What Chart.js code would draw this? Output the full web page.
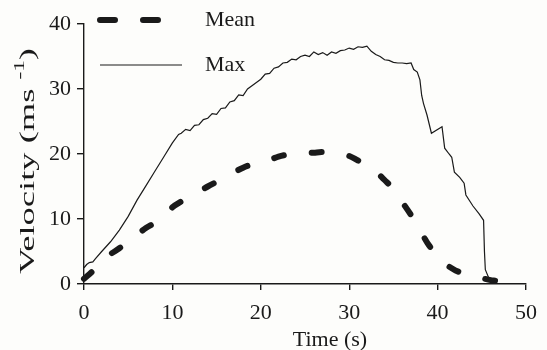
<!DOCTYPE html>
<html>
<head>
<meta charset="utf-8">
<script src="https://cdn.jsdelivr.net/npm/chart.js@4.4.1/dist/chart.umd.min.js"></script>
<style>
  html, body { margin: 0; padding: 0; background: #fdfdfb; }
  #wrap { width: 547px; height: 350px; }
</style>
</head>
<body>
<div id="wrap"><canvas id="velChart" width="547" height="350"></canvas></div>
<script>
// time (s) and velocity (m/s)
const maxTime = [0, 0.3, 0.6, 1.0, 1.3, 2, 3, 4, 5, 6, 7, 8, 9, 10, 10.7,
  11, 11.5, 12, 12.5, 13, 13.5, 14, 14.5, 15, 15.5, 16, 16.5, 17, 17.5, 18, 18.5,
  19, 19.5, 20, 20.5, 21, 21.5, 22, 22.5, 23, 23.5, 24, 24.5, 25, 25.5, 26, 26.5,
  27, 27.5, 28, 28.5, 29, 29.5, 30, 30.5, 31, 31.5, 32, 32.5, 33, 33.5, 34, 34.5,
  35, 35.5, 36, 36.5, 37, 37.3, 37.7, 38, 38.2, 38.4, 38.8, 39.3, 40.5, 40.8,
  41.3, 41.6, 41.9, 42.5, 43, 43.2, 44, 44.7, 45.2, 45.3, 45.4, 45.8, 46.3];
const maxVel = [2.5, 3.0, 3.3, 3.4, 3.9, 5.0, 6.5, 8.3, 10.4, 12.9, 15.1, 17.3, 19.5, 21.7, 23.0,
  23.2, 23.8, 23.6, 24.4, 24.5, 25.3, 25.5, 26.2, 26.1, 27.0, 27.1, 28.0, 28.2, 29.1, 29.0, 30.0,
  30.5, 31.0, 31.5, 32.3, 32.4, 33.2, 33.4, 34.0, 34.1, 34.6, 34.5, 35.0, 35.2, 35.0, 35.7, 35.3,
  35.6, 35.2, 35.7, 35.5, 35.9, 36.0, 36.3, 36.1, 36.5, 36.4, 36.6, 35.8, 35.3, 35.0, 34.5, 34.4,
  34.1, 34.0, 34.0, 33.9, 34.0, 33.0, 32.6, 31.4, 29.0, 27.8, 26.0, 23.2, 24.2, 20.9,
  20.0, 19.5, 17.2, 16.4, 15.5, 13.7, 12.0, 10.8, 9.8, 5.0, 2.2, 0.9, 0.3];

const meanTime = [0, 1, 2, 3, 4, 5, 6, 7, 8, 9, 10, 11, 12, 13, 14, 15, 16, 17, 18, 19, 20,
  21, 22, 23, 24, 25, 26, 27, 28, 29, 30, 31, 32, 33, 34, 35, 36, 37, 38, 39, 40,
  41, 42, 43, 44, 45, 46, 46.5];
const meanVel = [0.8, 2.0, 3.5, 4.6, 5.5, 6.6, 7.6, 8.6, 9.4, 10.3, 11.8, 12.7, 13.4, 14.2, 15.0,
  15.7, 16.4, 17.2, 17.9, 18.4, 18.8, 19.1, 19.6, 19.9, 20.0, 20.1, 20.2, 20.3, 20.2, 20.0, 19.7,
  19.0, 18.3, 17.3, 16.0, 14.6, 12.6, 10.6, 8.3, 6.0, 4.5, 3.0, 2.1, 1.6, 1.2, 0.9, 0.6, 0.5];

const xTicks = [0, 10, 20, 30, 40, 50];
const yTicks = [0, 10, 20, 30, 40];

const ink = '#1a1a1a';
const serif = '"Liberation Serif", "Times New Roman", serif';

const toPoints = (xs, ys) => xs.map((x, i) => ({ x, y: ys[i] }));

// legend, axis titles drawn by hand (superscript, legend inside the plot)
const decorations = {
  id: 'decorations',
  afterDraw(chart) {
    const ctx = chart.ctx;
    ctx.save();
    ctx.strokeStyle = ink;
    ctx.fillStyle = ink;

    // Mean sample
    ctx.lineWidth = 6;
    ctx.lineCap = 'round';
    ctx.setLineDash([15, 28]);
    ctx.beginPath();
    ctx.moveTo(100, 20);
    ctx.lineTo(160, 20);
    ctx.stroke();

    // Max sample
    ctx.setLineDash([]);
    ctx.lineCap = 'butt';
    ctx.lineWidth = 1.2;
    ctx.beginPath();
    ctx.moveTo(100, 65);
    ctx.lineTo(182, 65);
    ctx.stroke();

    ctx.font = '22px ' + serif;
    ctx.textBaseline = 'middle';
    ctx.textAlign = 'left';
    ctx.fillText('Mean', 205, 20);
    ctx.fillText('Max', 205, 65);

    // x title
    ctx.textAlign = 'center';
    ctx.fillText('Time (s)', 330, 340);
    ctx.textAlign = 'left';

    // y title with superscript, stretched along its length like the original
    ctx.save();
    ctx.translate(28, 161);
    ctx.rotate(-Math.PI / 2);
    const a = 'Velocity (ms ';
    const sup = '-1';
    const b = ')';
    ctx.font = '22px ' + serif;
    const wa = ctx.measureText(a).width;
    const wb = ctx.measureText(b).width;
    ctx.font = '14px ' + serif;
    const ws = ctx.measureText(sup).width;
    const total = wa + ws + wb;
    ctx.scale(226 / total, 1);
    let x = -total / 2;
    ctx.font = '22px ' + serif;
    ctx.fillText(a, x, 0);
    x += wa;
    ctx.font = '14px ' + serif;
    ctx.fillText(sup, x, -8);
    x += ws;
    ctx.font = '22px ' + serif;
    ctx.fillText(b, x, 0);
    ctx.restore();

    ctx.restore();
  }
};

const ctx = document.getElementById('velChart').getContext('2d');
new Chart(ctx, {
  type: 'scatter',
  data: {
    datasets: [
      {
        label: 'Mean',
        data: toPoints(meanTime, meanVel),
        showLine: true,
        borderColor: ink,
        borderWidth: 6,
        borderDash: [10, 28],
        borderCapStyle: 'round',
        cubicInterpolationMode: 'monotone',
        pointRadius: 0,
        clip: false
      },
      {
        label: 'Max',
        data: toPoints(maxTime, maxVel),
        showLine: true,
        borderColor: ink,
        borderWidth: 1.2,
        pointRadius: 0,
        clip: false
      }
    ]
  },
  options: {
    responsive: false,
    animation: false,
    layout: { padding: { top: 24, right: 14, left: 0, bottom: 0 } },
    plugins: {
      legend: { display: false },
      tooltip: { enabled: false }
    },
    scales: {
      x: {
        type: 'linear',
        min: 0,
        max: 50,
        afterFit: s => { s.height = 66; },
        afterBuildTicks: s => { s.ticks = xTicks.map(v => ({ value: v })); },
        grid: { drawOnChartArea: false, drawTicks: true, tickLength: 6, color: ink, lineWidth: 1.4 },
        border: { display: true, color: ink, width: 1.4 },
        ticks: { color: ink, padding: 10, maxRotation: 0, font: { family: serif, size: 22 } }
      },
      y: {
        min: 0,
        max: 40,
        afterFit: s => { s.width = 84; },
        afterBuildTicks: s => { s.ticks = yTicks.map(v => ({ value: v })); },
        grid: { drawOnChartArea: false, drawTicks: true, tickLength: 7, color: ink, lineWidth: 1.4 },
        border: { display: true, color: ink, width: 1.4 },
        ticks: { color: ink, padding: 6, font: { family: serif, size: 22 } }
      }
    }
  },
  plugins: [decorations]
});
</script>
</body>
</html>
